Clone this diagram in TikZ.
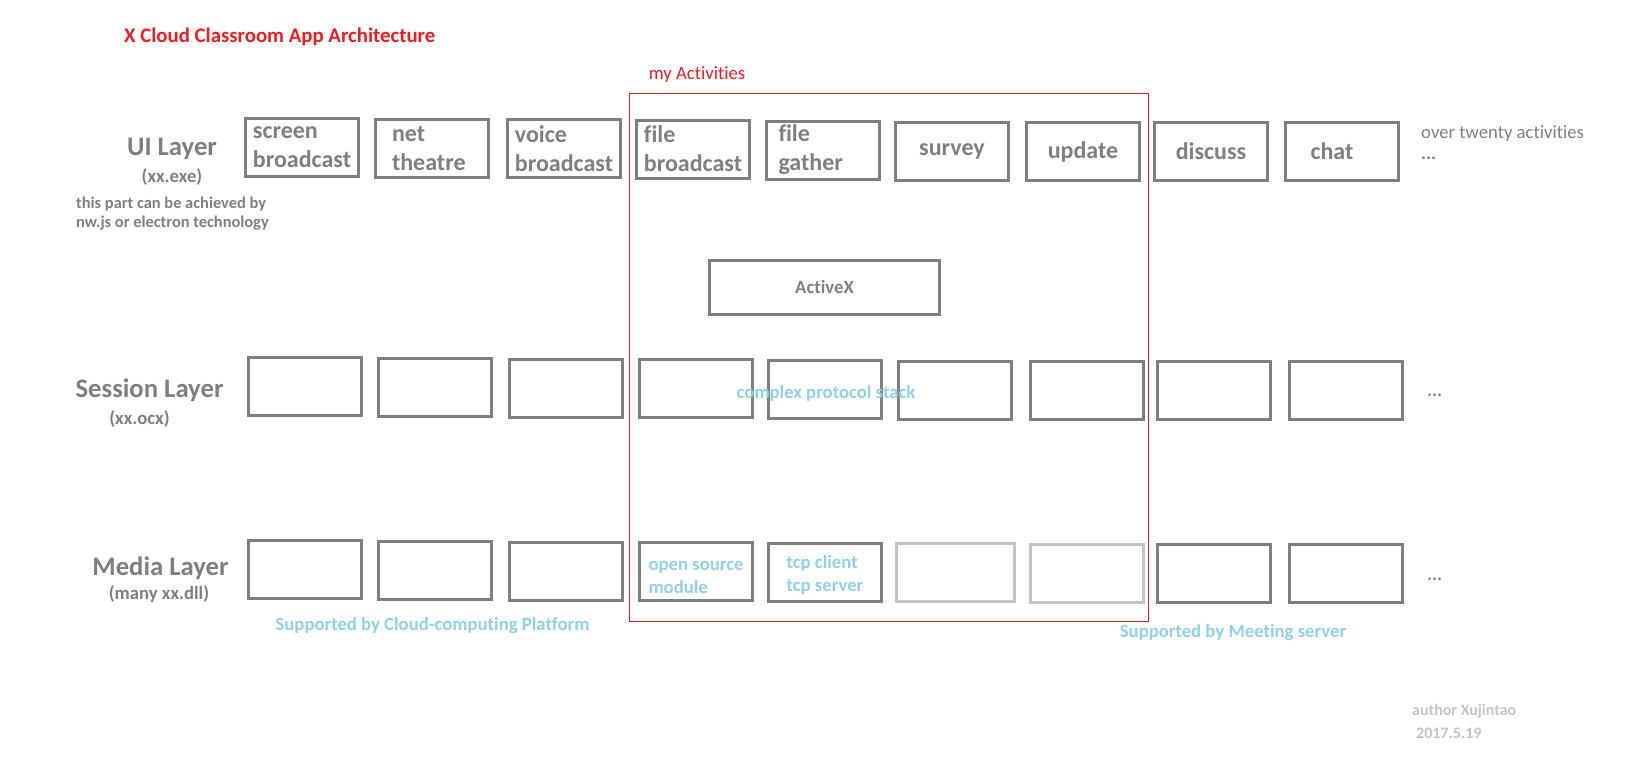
\documentclass[tikz,border=0pt]{standalone}
\usepackage{fontspec}
\setmainfont{Carlito}[Ligatures=NoCommon]
\usepackage{xcolor}
\definecolor{grayA}{RGB}{127,127,127}
\definecolor{grayB}{RGB}{195,195,195}
\definecolor{blueA}{RGB}{146,208,230}
\definecolor{redA}{RGB}{237,28,36}

\begin{document}
\begin{tikzpicture}[x=1pt, y=-1pt]
        \tikzset{boxA/.style={draw=grayA, line width=3pt, minimum width=113pt, minimum height=58pt, inner sep=0pt, text=grayA, align=left, font=\bfseries\fontsize{24}{29}\selectfont}}
        \tikzset{boxB/.style={boxA, draw=grayB}}
        \tikzset{boxC/.style={boxA, text=blueA, font=\bfseries\fontsize{18.7}{22.5}\selectfont}}
        \tikzset{layerA/.style={inner sep=0pt, text=grayA, font=\bfseries\fontsize{26.7}{32}\selectfont}}
        \tikzset{layerB/.style={inner sep=0pt, text=grayA, font=\bfseries\fontsize{18.7}{22}\selectfont}}
        \tikzset{noteA/.style={inner sep=0pt, text=blueA, font=\bfseries\fontsize{18.7}{22}\selectfont}}
        \tikzset{dotsA/.style={inner sep=0pt, anchor=west, text=grayA, font=\bfseries\fontsize{18.7}{22}\selectfont}}

        \useasboundingbox (0,0) rectangle (1632,761);

        \node[inner sep=0pt, anchor=west, text=redA, font=\bfseries\fontsize{20.8}{26}\selectfont] (title) at (124,37) {X Cloud Classroom App Architecture};

        % group of my activities
        \node[draw=redA, line width=1pt, minimum width=519pt, minimum height=528pt] (myact) at (888.5,357) {};
        \node[inner sep=0pt, text=redA, font=\fontsize{18.7}{22}\selectfont] (myactlabel) at (697,75) {my Activities};

        % layer titles
        \node[layerA] (uilayer) at (172,149) {UI Layer};
        \node[layerB] (uisub) at (172,177) {(xx.exe)};
        \node[inner sep=0pt, anchor=west, align=left, text=grayA, font=\bfseries\fontsize{16.4}{19.5}\selectfont] (uinote) at (76,213.5) {this part can be achieved by\\nw.js or electron technology};
        \node[layerA] (sessionlayer) at (149.5,390) {Session Layer};
        \node[layerB] (sessionsub) at (139.5,419) {(xx.ocx)};
        \node[layerA] (medialayer) at (160.5,568) {Media Layer};
        \node[layerB] (mediasub) at (159,594) {(many xx.dll)};

        % UI layer
        \node[boxA] (ui1) at (302,147.5) {screen\\broadcast};
        \node[boxA, text width=80pt] (ui2) at (432,148.5) {net\\theatre};
        \node[boxA] (ui3) at (564,148.5) {voice\\broadcast};
        \node[boxA] (ui4) at (693,149) {file\\broadcast};
        \node[boxA, text width=88pt] (ui5) at (822.5,150) {file\\gather};
        \node[boxA] (ui6) at (952,151.5) {survey};
        \node[boxA] (ui7) at (1083,151.5) {update};
        \node[boxA] (ui8) at (1211,151.5) {discuss};
        \node[boxA, text width=63pt] (ui9) at (1342,151.5) {chat};
        \node[inner sep=0pt, anchor=west, text=grayA, font=\fontsize{18.7}{22}\selectfont] (uimore) at (1421,134) {over twenty activities};
        \node[dotsA] (uidots) at (1421,158) {...};

        \node[boxA, minimum width=230pt, minimum height=54pt, font=\bfseries\fontsize{18.7}{22}\selectfont] (activex) at (824.5,287.5) {ActiveX};

        % session layer
        \node[boxA] (s1) at (305,386.5) {};
        \node[boxA] (s2) at (435,387.5) {};
        \node[boxA] (s3) at (566,388.5) {};
        \node[boxA] (s4) at (696,388.5) {};
        \node[boxA] (s5) at (825,389.5) {};
        \node[boxA] (s6) at (955,390.5) {};
        \node[boxA] (s7) at (1086.5,390.5) {};
        \node[boxA] (s8) at (1214,390.5) {};
        \node[boxA] (s9) at (1345.5,390.5) {};
        \node[dotsA] (sdots) at (1427,395) {...};
        \node[noteA] (stack) at (826,393) {complex protocol stack};

        % media layer
        \node[boxA] (m1) at (305,569) {};
        \node[boxA] (m2) at (435,570.5) {};
        \node[boxA] (m3) at (566,571.5) {};
        \node[boxC, text height=44pt] (m4) at (696,571.5) {open source\\module};
        \node[boxC, text height=40pt] (m5) at (825,572.5) {tcp client\\tcp server};
        \node[boxB, minimum width=118pt] (m6) at (955.5,572.5) {};
        \node[boxB] (m7) at (1086.5,573) {};
        \node[boxA] (m8) at (1214,573.5) {};
        \node[boxA] (m9) at (1345.5,573.5) {};
        \node[dotsA] (mdots) at (1427,579) {...};

        \node[noteA] (cloud) at (432.5,626) {Supported by Cloud-computing Platform};
        \node[noteA] (meeting) at (1233,633) {Supported by Meeting server};

        \node[inner sep=0pt, anchor=west, text=grayB, font=\bfseries\fontsize{16}{20}\selectfont] (author) at (1412,711) {author Xujintao};
        \node[inner sep=0pt, anchor=west, text=grayB, font=\bfseries\fontsize{16}{20}\selectfont] (date) at (1416,733) {2017.5.19};

    \end{tikzpicture}
\end{document}
